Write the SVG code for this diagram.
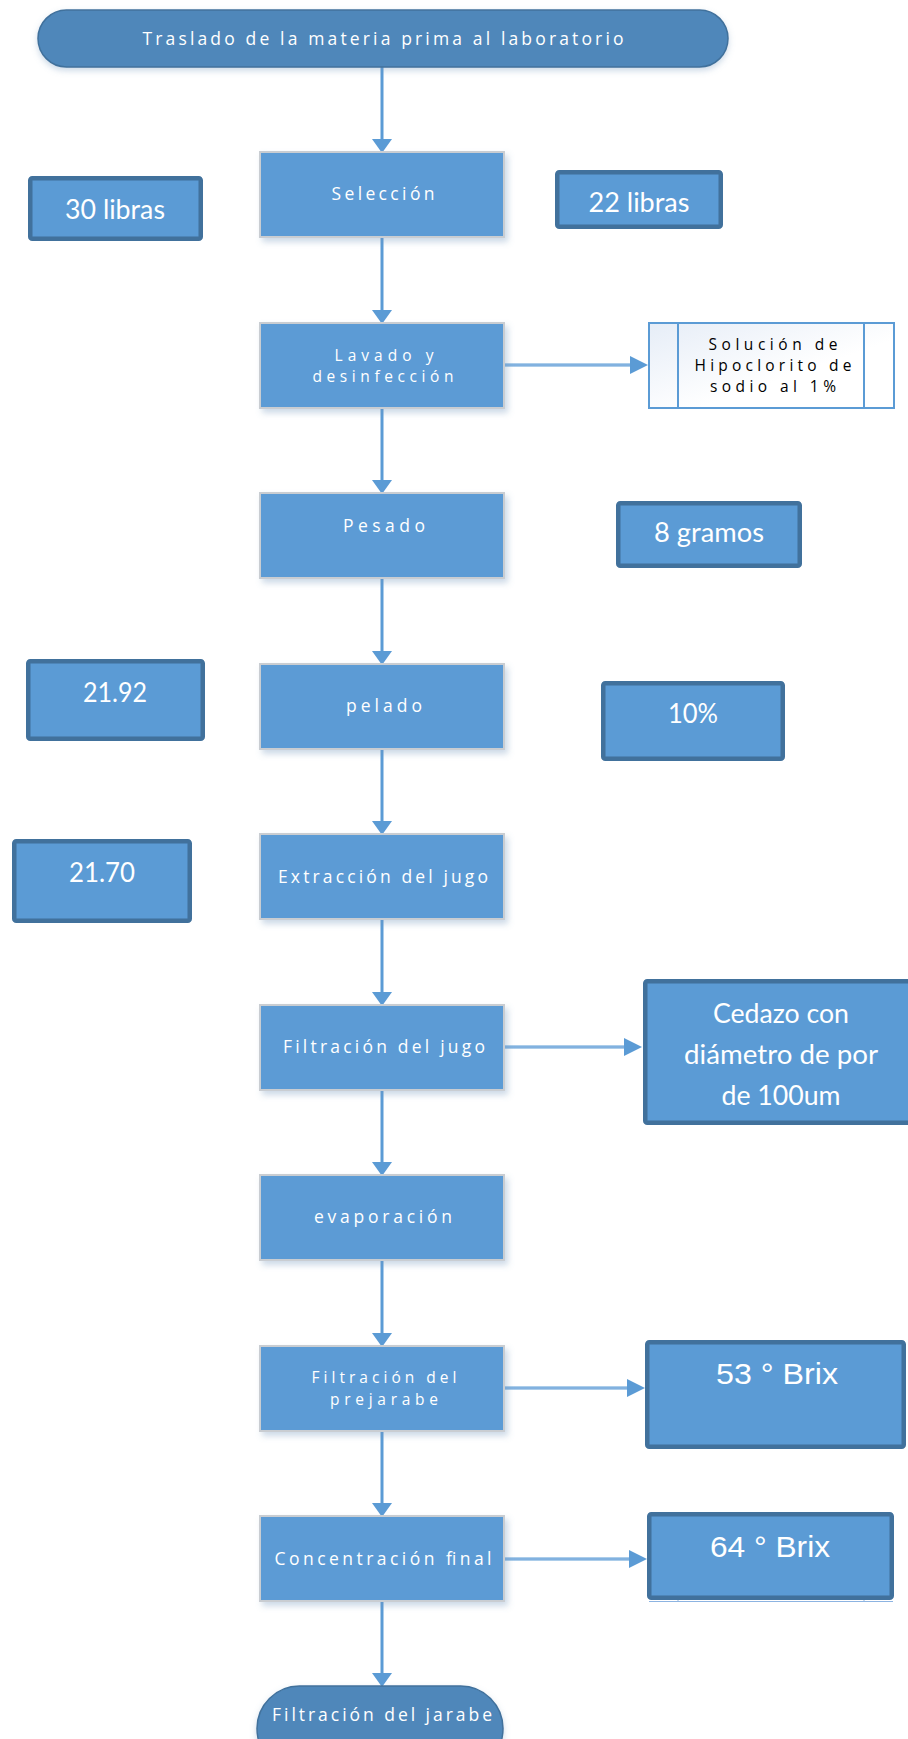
<svg xmlns="http://www.w3.org/2000/svg" width="908" height="1739" viewBox="0 0 908 1739">
<style>
.proc{fill:#5B9BD5;stroke:#C9CDD2;stroke-width:2;}
.term{fill:#4F87BA;stroke:#41719C;stroke-width:1.5;}
.val{fill:#5B9BD5;stroke:#41719C;stroke-width:4.5;}
.pt{font-family:"Open Sans","DejaVu Sans",sans-serif;font-size:17.5px;fill:#FFFFFF;text-anchor:middle;}
.pt2{font-family:"Open Sans","DejaVu Sans",sans-serif;font-size:15.5px;fill:#FFFFFF;text-anchor:middle;}
.vt{font-family:Lato,"Liberation Sans",sans-serif;font-size:27px;fill:#FFFFFF;text-anchor:middle;}
.bt{font-family:"Liberation Sans",Arial,sans-serif;font-size:30px;fill:#FFFFFF;text-anchor:middle;}
.st{font-family:"Open Sans","DejaVu Sans",sans-serif;font-size:15.5px;fill:#000000;text-anchor:middle;}
.ln{stroke:#5B9BD5;stroke-width:3;fill:none;}
.lni{stroke:#A9C8EA;stroke-width:1;fill:none;}
.ah{fill:#5B9BD5;}
</style>
<defs>
<filter id="sh" x="-10%" y="-10%" width="125%" height="130%">
<feDropShadow dx="3" dy="4" stdDeviation="3" flood-color="#6F93BA" flood-opacity="0.35"/>
</filter>
<filter id="gl" x="-10%" y="-20%" width="120%" height="150%">
<feDropShadow dx="0" dy="3" stdDeviation="3" flood-color="#6F93BA" flood-opacity="0.35"/>
</filter>
<linearGradient id="sg" x1="0" y1="0" x2="1" y2="1">
<stop offset="0" stop-color="#E6EDF7"/>
<stop offset="0.6" stop-color="#FFFFFF"/>
</linearGradient>
</defs>
<rect width="908" height="1739" fill="#FFFFFF"/>

<g id="connectors">
<line class="ln" x1="382" y1="67" x2="382" y2="140"/>
<polygon class="ah" points="372,139 392,139 382,153"/>
<line class="ln" x1="382" y1="237" x2="382" y2="311"/>
<polygon class="ah" points="372,310 392,310 382,324"/>
<line class="ln" x1="382" y1="408" x2="382" y2="481"/>
<polygon class="ah" points="372,480 392,480 382,494"/>
<line class="ln" x1="382" y1="578" x2="382" y2="652"/>
<polygon class="ah" points="372,651 392,651 382,665"/>
<line class="ln" x1="382" y1="749" x2="382" y2="822"/>
<polygon class="ah" points="372,821 392,821 382,835"/>
<line class="ln" x1="382" y1="919" x2="382" y2="993"/>
<polygon class="ah" points="372,992 392,992 382,1006"/>
<line class="ln" x1="382" y1="1090" x2="382" y2="1163"/>
<polygon class="ah" points="372,1162 392,1162 382,1176"/>
<line class="ln" x1="382" y1="1260" x2="382" y2="1334"/>
<polygon class="ah" points="372,1333 392,1333 382,1347"/>
<line class="ln" x1="382" y1="1431" x2="382" y2="1504"/>
<polygon class="ah" points="372,1503 392,1503 382,1517"/>
<line class="ln" x1="382" y1="1601" x2="382" y2="1674"/>
<polygon class="ah" points="372,1673 392,1673 382,1687"/>

<line class="ln" x1="504" y1="365" x2="632" y2="365"/>
<line class="lni" x1="505" y1="365" x2="630" y2="365"/>
<polygon class="ah" points="630,356 630,374 648,365"/>
<line class="ln" x1="504" y1="1047" x2="626" y2="1047"/>
<line class="lni" x1="505" y1="1047" x2="624" y2="1047"/>
<polygon class="ah" points="624,1038 624,1056 642,1047"/>
<line class="ln" x1="504" y1="1388" x2="629" y2="1388"/>
<line class="lni" x1="505" y1="1388" x2="627" y2="1388"/>
<polygon class="ah" points="627,1379 627,1397 645,1388"/>
<line class="ln" x1="504" y1="1559" x2="631" y2="1559"/>
<line class="lni" x1="505" y1="1559" x2="629" y2="1559"/>
<polygon class="ah" points="629,1550 629,1568 647,1559"/>
</g>

<g id="n-traslado">
<rect class="term" x="38" y="10" width="690" height="57" rx="28.5" ry="28.5" filter="url(#gl)"/>
<text class="pt" x="383" y="45" textLength="481">Traslado de la materia prima al laboratorio</text>
</g>

<g id="n-seleccion">
<rect class="proc" x="260" y="152" width="244" height="85" filter="url(#sh)"/>
<text class="pt" x="383" y="200" textLength="103">Selección</text>
</g>

<g id="n-30libras">
<rect class="val" x="30.25" y="178.25" width="170.5" height="60.5" rx="2"/>
<text class="vt" x="115" y="219" textLength="100" lengthAdjust="spacingAndGlyphs">30 libras</text>
</g>

<g id="n-22libras">
<rect class="val" x="557.25" y="172.25" width="163.5" height="54.5" rx="2"/>
<text class="vt" x="639" y="212" textLength="101" lengthAdjust="spacingAndGlyphs">22 libras</text>
</g>

<g id="n-lavado">
<rect class="proc" x="260" y="323" width="244" height="85" filter="url(#sh)"/>
<text class="pt2" x="384" y="361" textLength="99">Lavado y</text>
<text class="pt2" x="383" y="382" textLength="141">desinfección</text>
</g>

<g id="n-solucion">
<rect x="649" y="323" width="245" height="85" fill="url(#sg)" stroke="#5B9BD5" stroke-width="2"/>
<line x1="678" y1="323" x2="678" y2="408" stroke="#5B9BD5" stroke-width="2"/>
<line x1="864" y1="323" x2="864" y2="408" stroke="#5B9BD5" stroke-width="2"/>
<text class="st" x="773" y="350" textLength="129">Solución de</text>
<text class="st" x="773" y="371" textLength="157">Hipoclorito de</text>
<text class="st" x="773" y="392" textLength="126">sodio al 1%</text>
</g>

<g id="n-pesado">
<rect class="proc" x="260" y="493" width="244" height="85" filter="url(#sh)"/>
<text class="pt" x="384" y="532" textLength="82">Pesado</text>
</g>

<g id="n-8gramos">
<rect class="val" x="618.25" y="503.25" width="181.5" height="62.5" rx="2"/>
<text class="vt" x="709" y="542" textLength="110" lengthAdjust="spacingAndGlyphs">8 gramos</text>
</g>

<g id="n-pelado">
<rect class="proc" x="260" y="664" width="244" height="85" filter="url(#sh)"/>
<text class="pt" x="384" y="712" textLength="76">pelado</text>
</g>

<g id="n-2192">
<rect class="val" x="28.25" y="661.25" width="174.5" height="77.5" rx="2"/>
<text class="vt" x="115" y="702" textLength="64" lengthAdjust="spacingAndGlyphs">21.92</text>
</g>

<g id="n-10">
<rect class="val" x="603.25" y="683.25" width="179.5" height="75.5" rx="2"/>
<text class="vt" x="693" y="723" textLength="50" lengthAdjust="spacingAndGlyphs">10%</text>
</g>

<g id="n-extraccion">
<rect class="proc" x="260" y="834" width="244" height="85" filter="url(#sh)"/>
<text class="pt" x="383" y="883" textLength="210">Extracción del jugo</text>
</g>

<g id="n-2170">
<rect class="val" x="14.25" y="841.25" width="175.5" height="79.5" rx="2"/>
<text class="vt" x="102" y="882" textLength="66" lengthAdjust="spacingAndGlyphs">21.70</text>
</g>

<g id="n-filtracion-jugo">
<rect class="proc" x="260" y="1005" width="244" height="85" filter="url(#sh)"/>
<text class="pt" x="384" y="1053" textLength="202">Filtración del jugo</text>
</g>

<g id="n-cedazo">
<rect class="val" x="645.25" y="981.25" width="272" height="141.5" rx="2"/>
<text class="vt" x="781" y="1023" font-size="29" textLength="136" lengthAdjust="spacingAndGlyphs">Cedazo con</text>
<text class="vt" x="781" y="1064" font-size="29" textLength="194" lengthAdjust="spacingAndGlyphs">diámetro de por</text>
<text class="vt" x="781" y="1105" font-size="29" textLength="119" lengthAdjust="spacingAndGlyphs">de 100um</text>
</g>

<g id="n-evaporacion">
<rect class="proc" x="260" y="1175" width="244" height="85" filter="url(#sh)"/>
<text class="pt" x="383" y="1223" textLength="138">evaporación</text>
</g>

<g id="n-prejarabe">
<rect class="proc" x="260" y="1346" width="244" height="85" filter="url(#sh)"/>
<text class="pt2" x="384" y="1383" textLength="145">Filtración del</text>
<text class="pt2" x="384" y="1405" textLength="108">prejarabe</text>
</g>

<g id="n-53brix">
<rect class="val" x="647.25" y="1342.25" width="256.5" height="104.5" rx="2"/>
<text class="bt" x="777" y="1384" textLength="122" lengthAdjust="spacingAndGlyphs">53 ° Brix</text>
</g>

<g id="n-concentracion">
<rect class="proc" x="260" y="1516" width="244" height="85" filter="url(#sh)"/>
<text class="pt" x="383" y="1565" textLength="217">Concentración final</text>
</g>

<g id="n-64brix">
<line x1="649" y1="1601.5" x2="893" y2="1601.5" stroke="#8DB4E2" stroke-width="1"/>
<line x1="678" y1="1598" x2="678" y2="1602" stroke="#8DB4E2" stroke-width="1"/>
<line x1="864" y1="1598" x2="864" y2="1602" stroke="#8DB4E2" stroke-width="1"/>
<rect class="val" x="649.25" y="1514.25" width="242.5" height="83.5" rx="2"/>
<text class="bt" x="770" y="1557" textLength="120" lengthAdjust="spacingAndGlyphs">64 ° Brix</text>
</g>

<g id="n-jarabe">
<rect class="term" x="257" y="1686" width="246" height="85" rx="42.5" ry="42.5" filter="url(#gl)"/>
<text class="pt" x="382" y="1721" textLength="220">Filtración del jarabe</text>
</g>
</svg>
